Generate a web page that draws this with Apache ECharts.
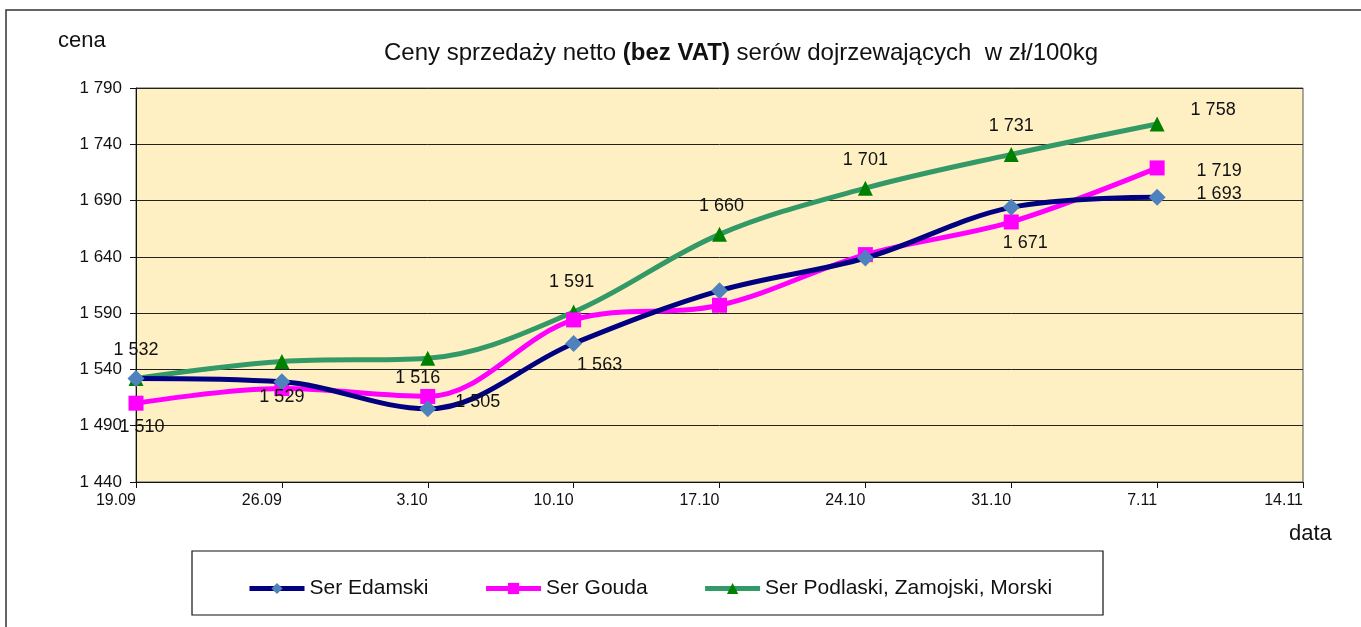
<!DOCTYPE html>
<html>
<head>
<meta charset="utf-8">
<script src="https://cdn.jsdelivr.net/npm/echarts@6/dist/echarts.min.js"></script>
<style>
  html, body { margin: 0; padding: 0; background: #fff; }
  #chart { width: 1361px; height: 627px; }
</style>
</head>
<body>
<div id="chart"></div>
<script>
// daty notowań (ostatnia bez danych)
const categories = ['19.09', '26.09', '3.10', '10.10', '17.10', '24.10', '31.10', '7.11', '14.11'];

const seriesNames = ['Ser Edamski', 'Ser Gouda', 'Ser Podlaski, Zamojski, Morski'];
const edamski  = [1532, 1529, 1505, 1563, 1610, 1639, 1684, 1693];
const gouda    = [1510, 1523, 1516, 1584, 1597, 1642, 1671, 1719];
const podlaski = [1532, 1547, 1550, 1591, 1660, 1701, 1731, 1758];

const yTicks = { min: 1440, max: 1790, step: 50 };

// które punkty mają etykietę i gdzie (przesunięcie od punktu)
const labelOffsets = [
  { 0: [0, -28], 1: [0, 15], 2: [50, -7], 3: [26, 21], 7: [62, -3] },
  { 0: [6, 24], 2: [-10, -18], 6: [14, 21], 7: [62, 3] },
  { 3: [-2, -30], 4: [2, -28], 5: [0, -28], 6: [0, -28], 7: [56, -14] },
];

const fmt = v => {
  const s = String(Math.round(v));
  return s.length > 3 ? s.slice(0, -3) + ' ' + s.slice(-3) : s;
};

const font = '"Liberation Sans", Arial, sans-serif';

function buildData(values, idx) {
  return values.map((v, i) => {
    const off = labelOffsets[idx][i];
    if (!off) return v;
    return {
      value: v,
      label: {
        show: true, position: 'inside', offset: off,
        formatter: p => fmt(p.value),
        color: '#111', fontSize: 18, fontFamily: font,
      },
    };
  });
}

const styles = [
  { line: '#000080', mark: '#4f81bd', symbol: 'diamond', size: 17 },
  { line: '#ff00ff', mark: '#ff00ff', symbol: 'rect', size: 15 },
  { line: '#339966', mark: '#008000', symbol: 'triangle', size: 15 },
];

const chart = echarts.init(document.getElementById('chart'));

chart.setOption({
  animation: false,
  textStyle: { fontFamily: font },
  grid: {
    left: 136, right: 58, top: 88, bottom: 145,
    show: true, backgroundColor: '#fff0c4', borderColor: '#555', borderWidth: 1,
  },
  title: {
    text: 'Ceny sprzedaży netto {b|(bez VAT)} serów dojrzewających  w zł/100kg',
    left: 736, top: 36, textAlign: 'center',
    textStyle: {
      fontSize: 24, fontWeight: 'normal', color: '#111', fontFamily: font,
      rich: { b: { fontSize: 24, fontWeight: 'bold', color: '#111', fontFamily: font } },
    },
  },
  legend: {
    left: 242, top: 573,
    itemWidth: 55, itemHeight: 14, itemGap: 55,
    lineStyle: { width: 5 },
    textStyle: { fontSize: 21, color: '#111', fontFamily: font },
    data: seriesNames,
  },
  graphic: [
    { type: 'rect', shape: { x: 6, y: 10, width: 1400, height: 700 },
      style: { fill: 'none', stroke: '#333', lineWidth: 1.5 }, silent: true, z: -1 },
    { type: 'rect', shape: { x: 192, y: 551, width: 911, height: 64 },
      style: { fill: 'none', stroke: '#111', lineWidth: 1.2 }, silent: true },
    { type: 'text', left: 58, top: 30,
      style: { text: 'cena', fontSize: 22, fill: '#111', fontFamily: font } },
    { type: 'text', left: 1289, top: 523,
      style: { text: 'data', fontSize: 22, fill: '#111', fontFamily: font } },
  ],
  xAxis: {
    type: 'category',
    data: categories,
    boundaryGap: false,
    axisLine: { lineStyle: { color: '#111', width: 1 } },
    axisTick: { show: true, length: 6, inside: false, lineStyle: { color: '#111' } },
    axisLabel: { fontSize: 16, color: '#111', margin: 11, align: 'right', fontFamily: font },
    splitLine: { show: false },
  },
  yAxis: {
    type: 'value',
    min: yTicks.min, max: yTicks.max, interval: yTicks.step,
    axisLine: { show: true, lineStyle: { color: '#111', width: 1 } },
    axisTick: { show: true, length: 6, lineStyle: { color: '#111' } },
    axisLabel: { fontSize: 17, color: '#111', margin: 14, formatter: fmt, fontFamily: font },
    splitLine: { show: true, lineStyle: { color: '#222', width: 1 } },
  },
  series: [edamski, gouda, podlaski].map((vals, i) => ({
    name: seriesNames[i],
    type: 'line',
    smooth: 0.35,
    data: buildData(vals, i),
    symbol: styles[i].symbol,
    symbolSize: styles[i].size,
    lineStyle: { color: styles[i].line, width: 5 },
    itemStyle: { color: styles[i].mark, borderWidth: 0 },
    z: 3 + (2 - i),
  })),
});
</script>
</body>
</html>
